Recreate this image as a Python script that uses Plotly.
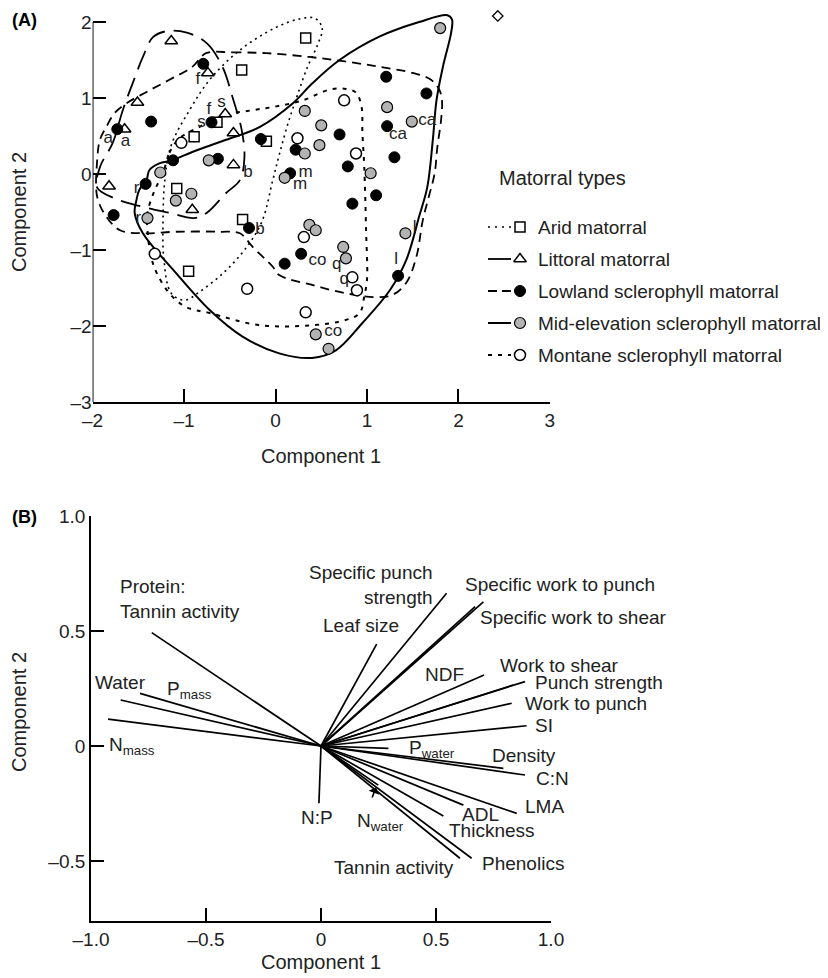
import plotly.graph_objects as go

# ---------------- Panel A: site scores ----------------
arid_x = [0.33, -0.37, -0.64, -0.89, -0.10, -1.08, -0.36, -0.95]
arid_y = [1.79, 1.37, 0.68, 0.49, 0.43, -0.19, -0.60, -1.28]

littoral_x = [-1.14, -0.74, -1.51, -1.65, -0.55, -0.46, -0.46, -1.82, -0.91]
littoral_y = [1.75, 1.33, 0.94, 0.59, 0.79, 0.54, 0.12, -0.16, -0.47]

lowland_x = [-0.79, -1.73, -1.36, -0.70, -0.16, -1.12, -0.63, 0.16, 0.22, -1.42, -1.77, -0.29,
             0.10, 0.28, 1.21, 1.65, 1.22, 0.70, 1.30, 0.79, 1.10, 0.84, 1.34]
lowland_y = [1.45, 0.59, 0.69, 0.68, 0.46, 0.18, 0.20, 0.01, 0.32, -0.13, -0.54, -0.71,
             -1.18, -1.05, 1.28, 1.06, 0.63, 0.52, 0.22, 0.10, -0.28, -0.39, -1.34]

mid_x = [1.80, 0.32, 0.50, 1.22, 1.49, 0.48, 0.32, 0.10, 1.04, -0.73, -1.26, -1.09, -0.92,
         -1.40, 0.37, 0.44, 0.74, 0.77, 1.42, 0.44, 0.58]
mid_y = [1.92, 0.83, 0.64, 0.88, 0.69, 0.38, 0.27, -0.05, 0.01, 0.18, 0.02, -0.35, -0.26,
         -0.58, -0.67, -0.74, -0.96, -1.11, -0.78, -2.11, -2.30]

montane_x = [0.75, 0.24, 0.88, -1.03, -1.32, -0.31, 0.31, 0.33, 0.84, 0.89]
montane_y = [0.97, 0.47, 0.27, 0.41, -1.05, -1.51, -0.83, -1.82, -1.36, -1.53]

stray_x = [2.43]
stray_y = [2.08]

# species codes printed next to points
code_text = ['a', 'a', 'f', 'f', 's', 's', 'b', 'b', 'm', 'm', 'r', 'r',
             'ca', 'ca', 'co', 'co', 'q', 'q', 'l', 'l']
code_x = [-1.83, -1.64, -0.73, -0.85, -0.59, -0.81, -0.30, -0.17, 0.33, 0.27, -1.52, -1.50,
          1.34, 1.66, 0.46, 0.63, 0.67, 0.75, 1.52, 1.32]
code_y = [0.47, 0.43, 0.84, 1.24, 0.94, 0.67, 0.01, -0.74, 0.02, -0.14, -0.20, -0.59,
          0.52, 0.70, -1.14, -2.08, -1.20, -1.39, -0.71, -1.13]

# envelopes around each matorral type
arid_hull_x = [0.43, 0.51, 0.46, 0.35, 0.24, 0.13, 0.04, -0.03, -0.15, -0.34, -0.56, -0.83, -0.99,
               -1.14, -1.22, -1.23, -1.21, -1.14, -0.94, -0.72, -0.39, -0.01, 0.26]
arid_hull_y = [2.05, 1.92, 1.70, 1.41, 1.04, 0.64, 0.25, -0.08, -0.63, -1.00, -1.29, -1.55, -1.66,
               -1.57, -1.13, -0.61, -0.08, 0.38, 0.84, 1.24, 1.63, 1.92, 2.04]

littoral_hull_x = [-0.97, -0.75, -0.58, -0.47, -0.37, -0.34, -0.39, -0.54, -0.75, -0.89, -1.16,
                   -1.49, -1.76, -1.95, -1.92, -1.78, -1.67, -1.56, -1.45, -1.34, -1.19]
littoral_hull_y = [1.86, 1.72, 1.41, 1.01, 0.58, 0.22, -0.08, -0.25, -0.51, -0.58, -0.51,
                   -0.42, -0.32, -0.18, 0.09, 0.41, 0.84, 1.20, 1.54, 1.80, 1.88]

lowland_hull_x = [-0.76, -0.47, -0.10, 0.37, 0.77, 1.14, 1.50, 1.70, 1.79, 1.82, 1.81, 1.77, 1.74,
                  1.68, 1.61, 1.54, 1.43, 1.28, 1.10, 0.77, 0.40, 0.04, -0.03, -0.25, -0.39,
                  -0.61, -1.09, -1.45, -1.70, -1.85, -1.95, -1.95, -1.92, -1.85, -1.76, -1.63,
                  -1.41, -1.16, -0.91]
lowland_hull_y = [1.59, 1.60, 1.59, 1.54, 1.48, 1.41, 1.33, 1.24, 1.11, 0.97, 0.71, 0.36, 0.01,
                  -0.28, -0.61, -1.09, -1.43, -1.59, -1.62, -1.57, -1.46, -1.33, -1.22, -0.96,
                  -0.78, -0.76, -0.76, -0.78, -0.74, -0.56, -0.30, 0.18, 0.45, 0.62, 0.80, 0.93,
                  1.08, 1.24, 1.41]

mid_hull_x = [-1.41, -1.38, -1.27, -1.13, -0.91, -0.54, -0.17, 0.19, 0.40, 0.70, 1.14, 1.57, 1.88,
              1.93, 1.92, 1.83, 1.76, 1.72, 1.66, 1.57, 1.43, 1.25, 0.95, 0.66, 0.40, 0.04,
              -0.36, -0.72, -1.09, -1.45, -1.54, -1.52, -1.49]
mid_hull_y = [-0.08, 0.05, 0.14, 0.18, 0.29, 0.45, 0.62, 0.93, 1.19, 1.50, 1.81, 2.00, 2.09,
              2.03, 1.86, 1.41, 0.97, 0.45, -0.17, -0.56, -1.13, -1.53, -1.96, -2.32, -2.42,
              -2.36, -2.14, -1.79, -1.30, -0.78, -0.51, -0.34, -0.21]

montane_hull_x = [-1.23, -1.16, -1.05, -0.83, -0.54, -0.25, 0.01, 0.30, 0.59, 0.77, 0.88, 0.94,
                  0.95, 0.97, 0.99, 1.00, 0.97, 0.92, 0.77, 0.40, -0.17, -0.72, -0.98, -1.16,
                  -1.30, -1.36, -1.40, -1.40, -1.32]
montane_hull_y = [0.01, 0.28, 0.47, 0.62, 0.78, 0.84, 0.89, 0.97, 1.11, 1.12, 1.07, 0.89,
                  0.54, 0.10, -0.74, -1.39, -1.61, -1.83, -1.92, -1.99, -1.99, -1.83, -1.75,
                  -1.57, -1.30, -1.09, -0.74, -0.51, -0.21]

a_xticks = [-2, -1, 0, 1, 2, 3]
a_xtext = ['–2', '–1', '0', '1', '2', '3']
a_yticks = [-3, -2, -1, 0, 1, 2]
a_ytext = ['–3', '–2', '–1', '0', '1', '2']

# ---------------- Panel B: trait loadings ----------------
trait_names = ['Protein:Tannin activity', 'Water', 'P_mass', 'N_mass', 'Leaf size',
               'Specific punch strength', 'Specific work to punch', 'Specific work to shear',
               'NDF', 'Work to shear', 'Punch strength', 'Work to punch', 'SI', 'P_water',
               'Density', 'C:N', 'LMA', 'ADL', 'Thickness', 'Phenolics', 'Tannin activity',
               'N:P', 'N_water']
load_x = [-0.736, -0.871, -0.787, -0.926, 0.242, 0.546, 0.706, 0.670, 0.709, 0.836, 0.887,
          0.829, 0.894, 0.293, 0.793, 0.887, 0.851, 0.619, 0.532, 0.655, 0.604, -0.009, 0.249]
load_y = [0.493, 0.200, 0.229, 0.117, 0.443, 0.664, 0.627, 0.606, 0.309, 0.265, 0.280,
          0.186, 0.088, -0.010, -0.097, -0.126, -0.293, -0.257, -0.304, -0.488, -0.488,
          -0.249, -0.170]

b_label_text = ['Protein:<br>Tannin activity', 'Water', 'P<sub>mass</sub>', 'N<sub>mass</sub>',
                'Leaf size', 'Specific punch<br>strength', 'Specific work to punch',
                'Specific work to shear', 'NDF', 'Work to shear', 'Punch strength',
                'Work to punch', 'SI', 'P<sub>water</sub>', 'Density', 'C:N', 'LMA', 'ADL',
                'Thickness', 'Phenolics', 'Tannin activity', 'N:P', 'N<sub>water</sub>']
b_label_x = [-0.883, -0.870, -0.678, -0.930, 0.174, 0.496, 0.617, 0.683, 0.539, 0.770, 0.922,
             0.878, 0.922, 0.374, 0.735, 0.926, 0.878, 0.604, 0.548, 0.691, 0.048, -0.017, 0.148]
b_label_y = [0.637, 0.274, 0.243, 0.000, 0.526, 0.698, 0.704, 0.557, 0.309, 0.350, 0.274,
             0.185, 0.087, -0.012, -0.043, -0.143, -0.265, -0.298, -0.367, -0.509, -0.530,
             -0.313, -0.330]
b_label_anchor = ['left', 'center', 'left', 'left', 'center', 'right', 'left', 'left', 'center',
                  'left', 'left', 'left', 'left', 'left', 'left', 'left', 'left', 'left', 'left',
                  'left', 'left', 'center', 'left']

b_xticks = [-1.0, -0.5, 0, 0.5, 1.0]
b_xtext = ['–1.0', '–0.5', '0', '0.5', '1.0']
b_yticks = [-0.5, 0, 0.5, 1.0]
b_ytext = ['–0.5', '0', '0.5', '1.0']

group_names = ['Arid matorral', 'Littoral matorral', 'Lowland sclerophyll matorral',
               'Mid-elevation sclerophyll matorral', 'Montane sclerophyll matorral']

# ---------------- styling / layout ----------------
# positions below are page pixels of the 828x978 window; the page body adds an 8px margin,
# so the figure frame is shifted by OFF to land on the same page pixels.
W, H = 828, 978
OFF = 8
FONT = 'Liberation Sans, Arial, Helvetica, sans-serif'
TXT = '#222'


def dom_x(p0, p1):
    return [(p0 - OFF) / W, (p1 - OFF) / W]


def dom_y(top, bottom):
    return [1 - (bottom - OFF) / H, 1 - (top - OFF) / H]


marker_styles = [
    dict(symbol='square', color='white', size=10, line=dict(color='black', width=1.5)),
    dict(symbol='triangle-up', color='white', size=11, line=dict(color='black', width=1.5)),
    dict(symbol='circle', color='black', size=11, line=dict(color='black', width=1)),
    dict(symbol='circle', color='#b3b3b3', size=11, line=dict(color='black', width=1.2)),
    dict(symbol='circle', color='white', size=11, line=dict(color='black', width=1.5)),
]
hull_styles = [('2px,4px', 1.6), ('20px,9px', 1.8), ('9px,6px', 1.8), ('solid', 2.0), ('4px,6px', 2.0)]
legend_line_styles = [('2px,5px', 1.6), ('solid', 1.8), ('9px,5px', 1.8), ('solid', 2.0), ('4px,6px', 2.0)]

fig = go.Figure()

hulls = [(arid_hull_x, arid_hull_y), (littoral_hull_x, littoral_hull_y),
         (lowland_hull_x, lowland_hull_y), (mid_hull_x, mid_hull_y),
         (montane_hull_x, montane_hull_y)]
for (hx, hy), (dash, w) in zip(hulls, hull_styles):
    fig.add_trace(go.Scatter(x=hx + hx[:1], y=hy + hy[:1], mode='lines',
                             line=dict(color='black', width=w, dash=dash, shape='spline', smoothing=1.0),
                             showlegend=False, hoverinfo='skip', xaxis='x', yaxis='y'))

points = [(arid_x, arid_y), (littoral_x, littoral_y), (lowland_x, lowland_y),
          (mid_x, mid_y), (montane_x, montane_y)]
for (px, py), name, mk in zip(points, group_names, marker_styles):
    fig.add_trace(go.Scatter(x=px, y=py, mode='markers', marker=mk, name=name, showlegend=False,
                             xaxis='x', yaxis='y', cliponaxis=False))

fig.add_trace(go.Scatter(x=stray_x, y=stray_y, mode='markers', showlegend=False, cliponaxis=False,
                         marker=dict(symbol='diamond', color='white', size=8,
                                     line=dict(color='black', width=1.3)), xaxis='x', yaxis='y'))

fig.add_trace(go.Scatter(x=code_x, y=code_y, mode='text', text=code_text, showlegend=False,
                         textfont=dict(size=17, color=TXT, family=FONT), cliponaxis=False,
                         hoverinfo='skip', xaxis='x', yaxis='y'))

# loadings as vectors from the origin
vx, vy = [], []
for lx, ly in zip(load_x, load_y):
    vx += [0, lx, None]
    vy += [0, ly, None]
fig.add_trace(go.Scatter(x=vx, y=vy, mode='lines', line=dict(color='black', width=1.7),
                         showlegend=False, hoverinfo='skip', xaxis='x2', yaxis='y2'))

# key ("Matorral types"): page-pixel overlay axis, line sample then symbol then text
leg_rows = [227, 259, 291, 323, 355]
for row, name, mk, (dash, w) in zip(leg_rows, group_names, marker_styles, legend_line_styles):
    fig.add_trace(go.Scatter(x=[488, 511], y=[row, row], mode='lines', showlegend=False,
                             line=dict(color='black', width=w, dash=dash), hoverinfo='skip',
                             xaxis='x3', yaxis='y3'))
    fig.add_trace(go.Scatter(x=[520], y=[row], mode='markers', marker=mk, name=name,
                             showlegend=False, xaxis='x3', yaxis='y3', cliponaxis=False))

annotations = []
for row, name in zip(leg_rows, group_names):
    annotations.append(dict(text=name, x=536, y=row, xref='x3', yref='y3', xanchor='left',
                            yanchor='middle', showarrow=False, font=dict(size=19, family=FONT, color=TXT)))
annotations.append(dict(text='Matorral types', x=497, y=178, xref='x3', yref='y3', xanchor='left',
                        yanchor='middle', showarrow=False, font=dict(size=20, family=FONT, color=TXT)))

for t, lx, ly, anc in zip(b_label_text, b_label_x, b_label_y, b_label_anchor):
    annotations.append(dict(text=t, x=lx, y=ly, xref='x2', yref='y2', xanchor=anc, yanchor='middle',
                            align=anc, showarrow=False, font=dict(size=19, family=FONT, color=TXT)))
# arrow from the N_water label to its (hidden) vector tip
nw = trait_names.index('N_water')
annotations.append(dict(text=' ', x=load_x[nw] - 0.01, y=load_y[nw] - 0.01, xref='x2', yref='y2',
                        ax=0.205, ay=-0.27, axref='x2', ayref='y2', showarrow=True,
                        arrowhead=1, arrowsize=1.2, arrowwidth=1.6, arrowcolor='black'))

# panel tags and axis titles (page pixels)
for t, x, y in [('<b>(A)</b>', 10, 20), ('<b>(B)</b>', 10, 517)]:
    annotations.append(dict(text=t, x=x, y=y, xref='x3', yref='y3', xanchor='left', yanchor='middle',
                            showarrow=False, font=dict(size=18, family=FONT, color='black')))
for t, x, y, ang in [('Component 2', 19, 212, -90), ('Component 2', 19, 712, -90),
                     ('Component 1', 321, 456, 0), ('Component 1', 321, 962, 0)]:
    annotations.append(dict(text=t, x=x, y=y, xref='x3', yref='y3', xanchor='center', yanchor='middle',
                            textangle=ang, showarrow=False, font=dict(size=20, family=FONT, color=TXT)))

axis_common = dict(ticks='inside', ticklen=13, tickwidth=1.8, tickcolor='black', showgrid=False,
                   zeroline=False, linecolor='black', linewidth=1.8, automargin=False,
                   tickfont=dict(size=19, family=FONT, color=TXT))

fig.update_layout(
    width=W, height=H, margin=dict(l=0, r=0, t=0, b=0, pad=0),
    paper_bgcolor='white', plot_bgcolor='rgba(0,0,0,0)',
    font=dict(family=FONT, size=19, color=TXT),
    showlegend=False,
    xaxis=dict(domain=dom_x(92.6, 549.9), range=[-2, 3], tickvals=a_xticks, ticktext=a_xtext,
               showline=True, anchor='y', **axis_common),
    yaxis=dict(domain=dom_y(12.9, 402), range=[-3, 2.12], tickvals=a_yticks, ticktext=a_ytext,
               showline=False, anchor='x', **axis_common),
    xaxis2=dict(domain=dom_x(91, 551), range=[-1, 1], tickvals=b_xticks, ticktext=b_xtext,
                showline=True, anchor='y2', **axis_common),
    yaxis2=dict(domain=dom_y(516, 920.8), range=[-0.76, 1.0], tickvals=b_yticks,
                ticktext=b_ytext, showline=True, anchor='x2', **axis_common),
    xaxis3=dict(domain=[0, 1], range=[OFF, W + OFF], visible=False, anchor='y3', fixedrange=True),
    yaxis3=dict(domain=[0, 1], range=[H + OFF, OFF], visible=False, anchor='x3', fixedrange=True),
    shapes=[dict(type='line', xref='x', yref='y', x0=-2, x1=-2, y0=-3, y1=2,
                 line=dict(color='black', width=1.8))],
    annotations=annotations,
)

fig.write_html('out.html')
